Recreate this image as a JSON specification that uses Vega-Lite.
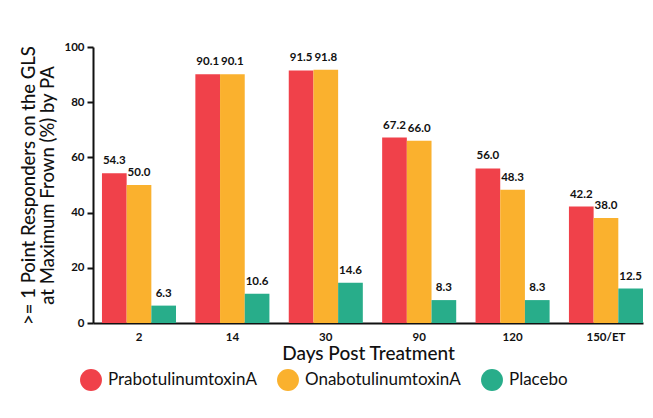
{
  "$schema": "https://vega.github.io/schema/vega-lite/v6.json",
  "width": 550,
  "height": 276,
  "autosize": {"type": "none"},
  "padding": {"left": 93, "top": 47, "right": 10, "bottom": 95},
  "background": "white",
  "data": {
    "values": [
      {"day": "2", "treatment": "PrabotulinumtoxinA", "value": 54.3},
      {"day": "2", "treatment": "OnabotulinumtoxinA", "value": 50.0},
      {"day": "2", "treatment": "Placebo", "value": 6.3},
      {"day": "14", "treatment": "PrabotulinumtoxinA", "value": 90.1},
      {"day": "14", "treatment": "OnabotulinumtoxinA", "value": 90.1},
      {"day": "14", "treatment": "Placebo", "value": 10.6},
      {"day": "30", "treatment": "PrabotulinumtoxinA", "value": 91.5},
      {"day": "30", "treatment": "OnabotulinumtoxinA", "value": 91.8},
      {"day": "30", "treatment": "Placebo", "value": 14.6},
      {"day": "90", "treatment": "PrabotulinumtoxinA", "value": 67.2},
      {"day": "90", "treatment": "OnabotulinumtoxinA", "value": 66.0},
      {"day": "90", "treatment": "Placebo", "value": 8.3},
      {"day": "120", "treatment": "PrabotulinumtoxinA", "value": 56.0},
      {"day": "120", "treatment": "OnabotulinumtoxinA", "value": 48.3},
      {"day": "120", "treatment": "Placebo", "value": 8.3},
      {"day": "150/ET", "treatment": "PrabotulinumtoxinA", "value": 42.2},
      {"day": "150/ET", "treatment": "OnabotulinumtoxinA", "value": 38.0},
      {"day": "150/ET", "treatment": "Placebo", "value": 12.5}
    ]
  },
  "encoding": {
    "x": {
      "field": "day",
      "type": "nominal",
      "sort": ["2", "14", "30", "90", "120", "150/ET"],
      "scale": {"paddingInner": 0.207, "paddingOuter": 0.048, "align": 1},
      "axis": {
        "title": "Days Post Treatment",
        "labelAngle": 0,
        "domainColor": "#111111",
        "domainWidth": 2,
        "ticks": false,
        "labelPadding": 8,
        "labelFont": "Lato",
        "labelFontWeight": "bold",
        "labelFontSize": 11.5,
        "labelColor": "#111111",
        "titleFont": "Lato",
        "titleFontSize": 19,
        "titleFontWeight": 500,
        "titleColor": "#111111",
        "titlePadding": 2
      }
    },
    "xOffset": {
      "field": "treatment",
      "type": "nominal",
      "sort": ["PrabotulinumtoxinA", "OnabotulinumtoxinA", "Placebo"],
      "scale": {"paddingInner": 0, "paddingOuter": 0}
    },
    "y": {
      "field": "value",
      "type": "quantitative",
      "scale": {"domain": [0, 100]},
      "axis": {
        "title": [">= 1 Point Responders on the GLS", "at Maximum Frown (%) by PA"],
        "values": [0, 20, 40, 60, 80, 100],
        "grid": false,
        "domainColor": "#111111",
        "domainWidth": 2,
        "tickColor": "#111111",
        "tickWidth": 2,
        "tickSize": 6,
        "labelPadding": 3,
        "labelFont": "Lato",
        "labelFontWeight": "bold",
        "labelFontSize": 11.5,
        "labelColor": "#111111",
        "titleFont": "Lato",
        "titleFontSize": 18.5,
        "titleFontWeight": 500,
        "titleColor": "#111111",
        "titleLineHeight": 19,
        "titlePadding": 6
      }
    }
  },
  "layer": [
    {
      "mark": {"type": "bar"},
      "encoding": {
        "color": {
          "field": "treatment",
          "type": "nominal",
          "sort": ["PrabotulinumtoxinA", "OnabotulinumtoxinA", "Placebo"],
          "scale": {
            "domain": ["PrabotulinumtoxinA", "OnabotulinumtoxinA", "Placebo"],
            "range": ["#F0414A", "#FAB12E", "#28AD8A"]
          },
          "legend": {
            "title": null,
            "orient": "none",
            "direction": "horizontal",
            "legendX": -13,
            "legendY": 322,
            "symbolType": "circle",
            "symbolSize": 480,
            "symbolStrokeWidth": 0,
            "symbolOpacity": 1,
            "labelFont": "Lato",
            "labelFontSize": 17,
            "labelColor": "#111111",
            "labelOffset": 6,
            "columnPadding": 20
          }
        }
      }
    },
    {
      "mark": {
        "type": "text",
        "dy": -7,
        "font": "Lato",
        "fontWeight": "bold",
        "fontSize": 11.5,
        "color": "#111111",
        "baseline": "bottom"
      },
      "encoding": {
        "text": {"field": "value", "type": "quantitative", "format": ".1f"}
      }
    }
  ],
  "config": {"view": {"stroke": null}}
}
